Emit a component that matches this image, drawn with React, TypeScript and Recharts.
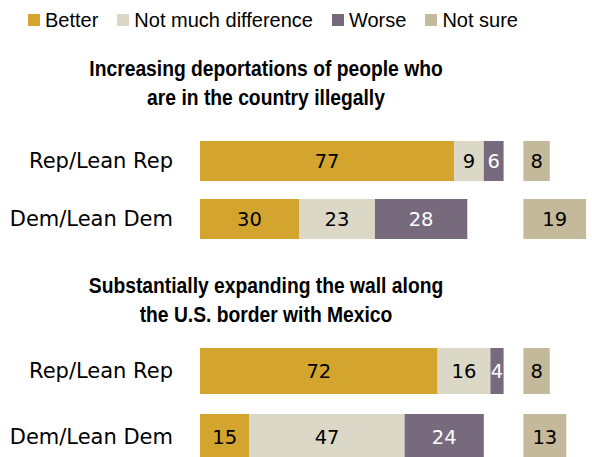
import { BarChart, Bar, XAxis, YAxis, LabelList } from 'recharts'

const groups = ['Rep/Lean Rep', 'Dem/Lean Dem']
const seriesNames = ['Better', 'Not much difference', 'Worse', 'Not sure']
const seriesColors = ['#D3A52E', '#DBD8C7', '#776A7D', '#C4BA9B']
const labelColors = ['#000', '#000', '#fff', '#000']

// Increasing deportations
const deportBetter = [77, 30]
const deportSame = [9, 23]
const deportWorse = [6, 28]
const deportNotSure = [8, 19]

// Expanding the wall
const wallBetter = [72, 15]
const wallSame = [16, 47]
const wallWorse = [4, 24]
const wallNotSure = [8, 13]

// "Not sure" column starts at this point on the value axis
const NOT_SURE_START = 98

const buildRows = (better: number[], same: number[], worse: number[], notSure: number[]) =>
  groups.map((group, i) => ({
    group,
    better: better[i],
    same: same[i],
    worse: worse[i],
    gap: NOT_SURE_START - (better[i] + same[i] + worse[i]),
    notSure: notSure[i],
  }))

const deportRows = buildRows(deportBetter, deportSame, deportWorse, deportNotSure)
const wallRows = buildRows(wallBetter, wallSame, wallWorse, wallNotSure)

const keys = ['better', 'same', 'worse', 'notSure']
const labelFont = '"DejaVu Sans", sans-serif'

const titleStyle = {
  position: 'absolute' as const,
  left: 0,
  width: 532,
  textAlign: 'center' as const,
  fontFamily: '"Liberation Sans", Arial, sans-serif',
  fontWeight: 700,
  fontSize: 22,
  lineHeight: '29px',
  color: '#000',
  transform: 'scaleX(0.876)',
  transformOrigin: '266px 0',
}

interface PanelProps {
  rows: ReturnType<typeof buildRows>
  top: number
  height: number
  barSize: number
}

const Panel = ({ rows, top, height, barSize }: PanelProps) => (
  <div style={{ position: 'absolute', left: 0, top }}>
    <BarChart
      width={600}
      height={height}
      data={rows}
      layout="vertical"
      margin={{ top: 0, right: 4, bottom: 0, left: 0 }}
      barSize={barSize}
    >
      <XAxis type="number" domain={[0, 120]} hide />
      <YAxis
        type="category"
        dataKey="group"
        width={200}
        tickSize={0}
        tickMargin={27}
        axisLine={false}
        tick={{ fontSize: 21, fill: '#000', fontFamily: labelFont }}
      />
      {keys.slice(0, 3).map((k, i) => (
        <Bar key={k} dataKey={k} stackId="s" fill={seriesColors[i]} isAnimationActive={false}>
          <LabelList
            dataKey={k}
            position="center"
            fill={labelColors[i]}
            fontSize={19.5}
            fontFamily={labelFont}
          />
        </Bar>
      ))}
      <Bar dataKey="gap" stackId="s" fill="transparent" isAnimationActive={false} />
      <Bar dataKey="notSure" stackId="s" fill={seriesColors[3]} isAnimationActive={false}>
        <LabelList
          dataKey="notSure"
          position="center"
          fill={labelColors[3]}
          fontSize={19.5}
          fontFamily={labelFont}
        />
      </Bar>
    </BarChart>
  </div>
)

export default function App() {
  return (
    <div
      style={{
        position: 'fixed',
        left: 0,
        top: 0,
        width: 592,
        height: 457,
        overflow: 'hidden',
        background: '#fff',
        fontFamily: '"Liberation Sans", Arial, sans-serif',
      }}
    >
      <div
        style={{
          position: 'absolute',
          left: 28,
          top: 8,
          display: 'flex',
          alignItems: 'center',
          fontSize: 20,
          lineHeight: '24px',
          color: '#000',
          whiteSpace: 'nowrap',
        }}
      >
        {seriesNames.map((name, i) => (
          <div key={name} style={{ display: 'flex', alignItems: 'center', marginRight: 19 }}>
            <span style={{ display: 'inline-block', width: 12, height: 12, background: seriesColors[i], marginRight: 5 }} />
            <span>{name}</span>
          </div>
        ))}
      </div>

      <div style={{ ...titleStyle, top: 54 }}>
        Increasing deportations of people who
        <br />
        are in the country illegally
      </div>
      <Panel rows={deportRows} top={132} height={116} barSize={40} />

      <div style={{ ...titleStyle, top: 271 }}>
        Substantially expanding the wall along
        <br />
        the U.S. border with Mexico
      </div>
      <Panel rows={wallRows} top={338} height={132} barSize={46} />
    </div>
  )
}
